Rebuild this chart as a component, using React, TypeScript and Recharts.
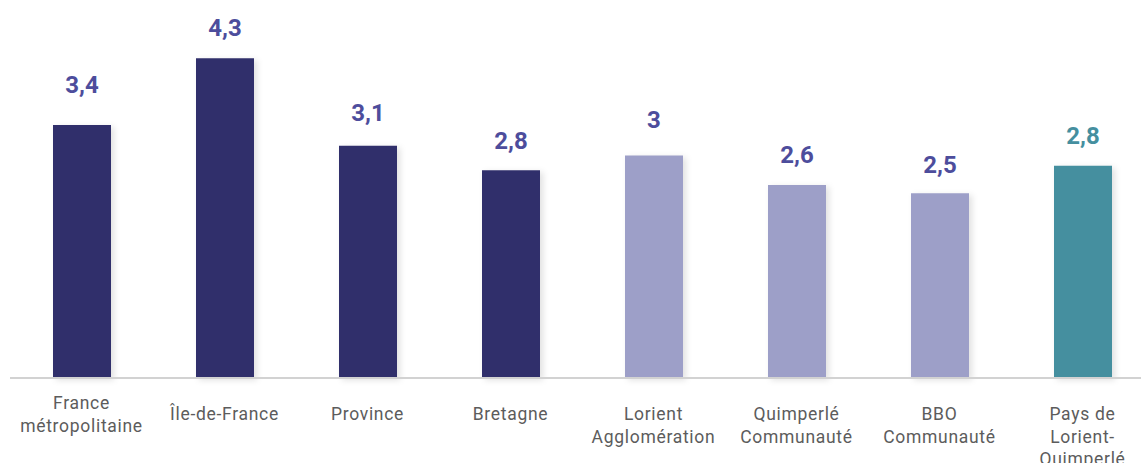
import React from "react";
import { BarChart, Bar, XAxis, YAxis, Cell, LabelList } from "recharts";

const CATEGORIES = [
  "France\nmétropolitaine",
  "Île-de-France",
  "Province",
  "Bretagne",
  "Lorient\nAgglomération",
  "Quimperlé\nCommunauté",
  "BBO\nCommunauté",
  "Pays de\nLorient-\nQuimperlé",
];
const VALUES = [3.41, 4.31, 3.13, 2.8, 3.0, 2.6, 2.49, 2.86];
const VALUE_LABELS = ["3,4", "4,3", "3,1", "2,8", "3", "2,6", "2,5", "2,8"];
// 0 = national/regional, 1 = EPCI, 2 = pays
const GROUPS = [0, 0, 0, 0, 1, 1, 1, 2];

const BAR_COLORS = ["#302f6b", "#9d9fc8", "#458f9f"];
const LABEL_COLORS = ["#4d4d9c", "#4d4d9c", "#458f9f"];
// gap between label baseline and bar top, as laid out in the original
const LABEL_GAP = [32, 22, 25, 21, 27, 22, 20, 22];

const data = CATEGORIES.map((name, i) => ({
  name,
  value: VALUES[i],
  label: VALUE_LABELS[i],
  group: GROUPS[i],
}));

const CategoryTick = (props: any) => {
  const { x, y, payload, index } = props;
  const lines = String(payload.value).split("\n");
  const lift = index === 0 ? -11 : 0;
  return (
    <text
      x={x}
      y={y}
      textAnchor="middle"
      fill="#5c5c5c"
      fontSize={17.5}
      fontFamily="Roboto, sans-serif"
      style={{ letterSpacing: "0.7px" }}
    >
      {lines.map((line, i) => (
        <tspan key={i} x={x} y={y + 34 + lift + i * 22.5}>
          {line}
        </tspan>
      ))}
    </text>
  );
};

const ValueLabel = (props: any) => {
  const { x, y, width, value, index } = props;
  return (
    <text
      x={x + width / 2}
      y={y - LABEL_GAP[index]}
      textAnchor="middle"
      fill={LABEL_COLORS[GROUPS[index]]}
      fontSize={24}
      fontWeight={700}
      fontFamily="Roboto, sans-serif"
    >
      {value}
    </text>
  );
};

export default function App() {
  return (
    <div
      style={{
        position: "absolute",
        left: 0,
        top: 0,
        width: 1141,
        height: 463,
        overflow: "hidden",
        background: "#fff",
      }}
    >
      <BarChart
        width={1160}
        height={463}
        data={data}
        margin={{ top: 7, right: 6, left: 10, bottom: 0 }}
        barCategoryGap={0}
      >
        <YAxis hide domain={[0, 5]} />
        <XAxis
          dataKey="name"
          interval={0}
          height={85}
          tickLine={false}
          axisLine={{ stroke: "#d2d2d2", strokeWidth: 2 }}
          tick={<CategoryTick />}
        />
        <Bar dataKey="value" barSize={58} isAnimationActive={false}>
          {data.map((d, i) => (
            <Cell
              key={`cell-${i}`}
              fill={BAR_COLORS[d.group]}
              style={{ filter: "drop-shadow(3px 2px 3px rgba(0,0,0,0.12))" }}
            />
          ))}
          <LabelList dataKey="label" content={<ValueLabel />} />
        </Bar>
      </BarChart>
    </div>
  );
}
